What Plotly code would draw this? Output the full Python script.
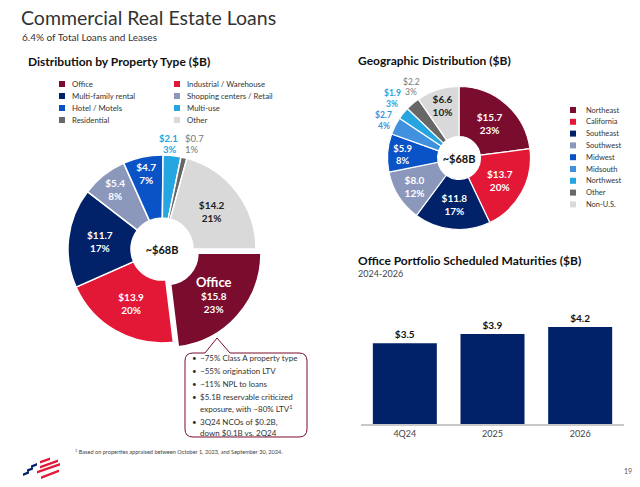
import plotly.graph_objects as go

W, H = 640, 487
FONT = "Lato"

# ---------------- data ----------------
prop_labels = ["Office", "Industrial / Warehouse", "Multi-family rental", "Shopping centers / Retail",
               "Hotel / Motels", "Multi-use", "Residential", "Other"]
prop_values = [15.8, 13.9, 11.7, 5.4, 4.7, 2.1, 0.7, 14.2]
prop_pct = [23, 20, 17, 8, 7, 3, 1, 21]

geo_labels = ["Northeast", "California", "Southeast", "Southwest", "Midwest",
              "Midsouth", "Northwest", "Other", "Non-U.S."]
geo_values = [15.7, 13.7, 11.8, 8.0, 5.9, 2.7, 1.9, 2.2, 6.6]
geo_pct = [23, 20, 17, 12, 8, 4, 3, 3, 10]

mat_periods = ["4Q24", "2025", "2026"]
mat_values = [3.5, 3.9, 4.2]

callout_lines = [("•", "~75% Class A property type"),
                 ("•", "~55% origination LTV"),
                 ("•", "~11% NPL to loans"),
                 ("•", "$5.1B reservable criticized"),
                 ("", "exposure, with ~80% LTV<sup>1</sup>"),
                 ("•", "3Q24 NCOs of $0.2B,"),
                 ("", "down $0.1B vs. 2Q24")]

# ---------------- styles ----------------
MAROON = "#7A0C2E"
RED = "#E31837"
NAVY = "#012169"
GRAYBLUE = "#8C97BC"
BLUE = "#0A53C6"
MIDBLUE = "#4191DE"
LIGHTBLUE = "#25A6E0"
DARKGRAY = "#676767"
LIGHTGRAY = "#D9D9D9"

prop_colors = [MAROON, RED, NAVY, GRAYBLUE, BLUE, LIGHTBLUE, DARKGRAY, LIGHTGRAY]
geo_colors = [MAROON, RED, NAVY, GRAYBLUE, BLUE, MIDBLUE, LIGHTBLUE, DARKGRAY, LIGHTGRAY]


def px(x):
    return x / W


def py(y):
    return 1 - y / H


fig = go.Figure()

# ---------------- left pie ----------------
prop_text = []
prop_tcol = []
for lab, v, p in zip(prop_labels, prop_values, prop_pct):
    if v < 3:
        prop_text.append("")
    elif lab == "Office":
        prop_text.append("<span style='font-size:13px'>Office</span><br>$%.1f<br>%d%%" % (v, p))
    else:
        prop_text.append("$%.1f<br>%d%%" % (v, p))
    prop_tcol.append("#222222" if lab == "Other" else "white")

pull_left = [0.07 if lab == "Office" else 0 for lab in prop_labels]
cxL, cyL, rL = 162, 249, 94
hL = rL * 1.07
fig.add_trace(go.Pie(
    labels=prop_labels, values=prop_values, text=prop_text, textinfo="text",
    texttemplate="%{text}", textposition="inside", insidetextorientation="horizontal",
    sort=False, direction="clockwise", rotation=90, hole=0.33, pull=pull_left,
    marker=dict(colors=prop_colors, line=dict(color="white", width=1.5)),
    textfont=dict(family=FONT, size=10, color=prop_tcol, weight="bold"),
    title=dict(text="<b>~$68B</b>", position="middle center", font=dict(family=FONT, size=11, color="#111")),
    domain=dict(x=[px(cxL - hL), px(cxL + hL)], y=[py(cyL + hL), py(cyL - hL)]),
    showlegend=False, hoverinfo="label+value+percent",
))

# ---------------- right pie ----------------
geo_text = []
geo_tcol = []
for lab, v, p in zip(geo_labels, geo_values, geo_pct):
    geo_text.append("" if v < 3 else "$%.1f<br>%d%%" % (v, p))
    geo_tcol.append("#222222" if lab == "Non-U.S." else "white")

cxR, cyR, rR = 459, 158, 71.5
fig.add_trace(go.Pie(
    labels=geo_labels, values=geo_values, text=geo_text, textinfo="text",
    texttemplate="%{text}", textposition="inside", insidetextorientation="horizontal",
    sort=False, direction="clockwise", rotation=0, hole=0.30,
    marker=dict(colors=geo_colors, line=dict(color="white", width=1.2)),
    textfont=dict(family=FONT, size=10, color=geo_tcol, weight="bold"),
    title=dict(text="<b>~$68B</b>", position="middle center", font=dict(family=FONT, size=11, color="#111")),
    domain=dict(x=[px(cxR - rR), px(cxR + rR)], y=[py(cyR + rR), py(cyR - rR)]),
    showlegend=False, hoverinfo="label+value+percent",
))

# ---------------- bars ----------------
fig.add_trace(go.Bar(
    x=mat_periods, y=mat_values, marker=dict(color=NAVY, line=dict(width=0)),
    texttemplate="<b>$%{y:.1f}</b>", textposition="outside", cliponaxis=False,
    textfont=dict(family=FONT, size=10, color="#111"),
    showlegend=False, width=0.73,
))

fig.update_layout(
    width=W, height=H, margin=dict(l=0, r=0, t=0, b=0),
    paper_bgcolor="white", plot_bgcolor="white",
    font=dict(family=FONT, color="#222"),
    xaxis=dict(domain=[px(361), px(624)], showgrid=False, zeroline=False,
               showline=True, linecolor="#C8C8C8", linewidth=1.5, ticks="",
               tickfont=dict(family=FONT, size=9, color="#444"), fixedrange=True),
    yaxis=dict(domain=[py(424), py(424 - 5 * 23.1)], range=[0, 5], visible=False, fixedrange=True),
)

shapes = []
annots = []


def text(x, y, s, size, color="#222", bold=False, xanchor="left", align="left", family=FONT):
    annots.append(dict(x=px(x), y=py(y), xref="paper", yref="paper", text=("<b>%s</b>" % s) if bold else s,
                       showarrow=False, xanchor=xanchor, yanchor="middle", align=align,
                       font=dict(family=family, size=size, color=color)))


# titles
text(19, 18, "Commercial Real Estate Loans", 19.5, "#333")
text(20, 37, "6.4% of Total Loans and Leases", 10, "#333")
text(26, 61, "Distribution by Property Type ($B)", 12, "#111", bold=True)
text(356, 60, "Geographic Distribution ($B)", 12, "#111", bold=True)
text(356, 260, "Office Portfolio Scheduled Maturities ($B)", 12, "#111", bold=True)
text(356, 273, "2024-2026", 9, "#444")

# left legend (two columns, row-major)
for i, (lab, col) in enumerate(zip(prop_labels, prop_colors)):
    r, c = divmod(i, 2)
    sx = 59 if c == 0 else 174
    yy = 84 + r * 12
    shapes.append(dict(type="rect", xref="paper", yref="paper", x0=px(sx), x1=px(sx + 6),
                       y0=py(yy + 3), y1=py(yy - 3), fillcolor=col, line=dict(width=0)))
    text(sx + 11, yy, lab, 7.8, "#333")

# right legend
for i, (lab, col) in enumerate(zip(geo_labels, geo_colors)):
    yy = 110 + i * 11.8
    shapes.append(dict(type="rect", xref="paper", yref="paper", x0=px(570), x1=px(576),
                       y0=py(yy + 3), y1=py(yy - 3), fillcolor=col, line=dict(width=0)))
    text(584, yy, lab, 7.5, "#333")

# outside labels for small slices
text(180, 138, "$2.1", 9.5, LIGHTBLUE, bold=True, xanchor="right")
text(179, 149.5, "3%", 9.5, LIGHTBLUE, bold=True, xanchor="right")
text(183, 138, "$0.7", 9.5, "#777", xanchor="left")
text(183, 149.5, "1%", 9.5, "#777", xanchor="left")
text(411.5, 82, "$2.2", 8.5, "#777", xanchor="center")
text(411, 92, "3%", 8.5, "#777", xanchor="center")
text(392.5, 93, "$1.9", 8.5, LIGHTBLUE, bold=True, xanchor="center")
text(400, 104, "3%", 8.5, LIGHTBLUE, bold=True, xanchor="right")
text(383.5, 115, "$2.7", 8.5, MIDBLUE, bold=True, xanchor="center")
text(383.5, 126, "4%", 8.5, MIDBLUE, bold=True, xanchor="center")

# callout box with pointer
L, R, T, B, rad = 185, 307, 353, 437, 8
ax, ay, bl, br = 217, 338, 205, 230


def P(x, y):
    return "%.5f,%.5f" % (px(x), py(y))


path = ("M " + P(L + rad, T) + " L " + P(bl, T) + " L " + P(ax, ay) + " L " + P(br, T) +
        " L " + P(R - rad, T) + " Q " + P(R, T) + " " + P(R, T + rad) +
        " L " + P(R, B - rad) + " Q " + P(R, B) + " " + P(R - rad, B) +
        " L " + P(L + rad, B) + " Q " + P(L, B) + " " + P(L, B - rad) +
        " L " + P(L, T + rad) + " Q " + P(L, T) + " " + P(L + rad, T) + " Z")
shapes.append(dict(type="path", xref="paper", yref="paper", path=path,
                   fillcolor="white", line=dict(color=MAROON, width=1)))

line_y = [357.5, 370.5, 383.5, 396.5, 408.5, 421.5, 433]
for (b, s), yy in zip(callout_lines, line_y):
    if b:
        text(190, yy, b, 8, "#333")
    text(198, yy, s, 8, "#333")

# footnote + page number
text(73, 451.5, "<sup>1</sup> Based on properties appraised between October 1, 2023, and September 30, 2024.", 5.6, "#444")
text(634, 471, "19", 7, "#555", xanchor="right")


# logo (flag stripes)
def para(x0, y0, x1, y1, t, col):
    p = "M " + P(x0, y0) + " L " + P(x1, y1) + " L " + P(x1, y1 + t) + " L " + P(x0, y0 + t) + " Z"
    shapes.append(dict(type="path", xref="paper", yref="paper", path=p, fillcolor=col, line=dict(width=0)))


para(40, 461, 50, 457.5, 2.6, RED)
para(31, 465.5, 37, 463, 2.6, NAVY)
para(40, 466, 58, 459.5, 2.6, RED)
para(27, 469.5, 33, 467, 2.6, NAVY)
para(37, 471, 60, 463, 2.6, RED)
para(23, 473.5, 29, 471, 2.6, NAVY)
para(41, 476.5, 59, 469.5, 2.6, RED)

fig.update_layout(shapes=shapes, annotations=annots)
fig.write_html("out.html")
